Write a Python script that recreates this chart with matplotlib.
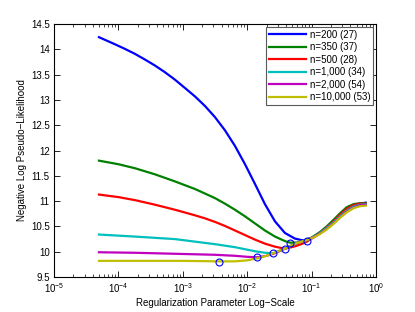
import numpy as np
import matplotlib
matplotlib.use("Agg")
import matplotlib.pyplot as plt
from matplotlib.ticker import FixedLocator, FuncFormatter, LogLocator

plt.rcParams['font.family'] = ['Liberation Sans', 'DejaVu Sans']

### Données (exposants log10 du paramètre de régularisation)
lab = ["n=200 (27)", "n=350 (37)", "n=500 (28)", "n=1,000 (34)", "n=2,000 (54)", "n=10,000 (53)"]
couleurs = [(0, 0, 1), (0, 0.5, 0), (1, 0, 0), (0, 0.75, 0.75), (0.75, 0, 0.75), (0.75, 0.75, 0)]

e200 = [-4.301, -4.053, -3.9, -3.742, -3.59, -3.432, -3.28, -3.121, -2.97, -2.811, -2.655, -2.5,
        -2.345, -2.189, -2.034, -1.879, -1.724, -1.568, -1.413, -1.258, -1.154, -1.076, -0.974,
        -0.87, -0.766, -0.66, -0.559, -0.455, -0.35, -0.25, -0.16]
y200 = [14.24, 14.10, 14.01, 13.91, 13.80, 13.68, 13.55, 13.40, 13.24, 13.07, 12.88, 12.66,
        12.40, 12.09, 11.73, 11.34, 10.94, 10.60, 10.37, 10.26, 10.23, 10.22, 10.28,
        10.37, 10.47, 10.58, 10.70, 10.80, 10.90, 10.95, 10.97]

e350 = [-4.301, -4.0, -3.742, -3.432, -3.121, -2.811, -2.655, -2.5, -2.345, -2.189, -2.034,
        -1.879, -1.724, -1.568, -1.413, -1.335, -1.23, -1.12, -1.0, -0.87, -0.766, -0.66,
        -0.559, -0.455, -0.35, -0.25, -0.16]
y350 = [11.80, 11.73, 11.65, 11.53, 11.39, 11.24, 11.15, 11.06, 10.95, 10.83, 10.70,
        10.56, 10.42, 10.30, 10.21, 10.18, 10.18, 10.22, 10.28, 10.39, 10.50, 10.63,
        10.76, 10.88, 10.94, 10.96, 10.96]

e500 = [-4.301, -4.0, -3.742, -3.432, -3.121, -2.811, -2.655, -2.5, -2.345, -2.189, -2.034,
        -1.879, -1.724, -1.568, -1.413, -1.25, -1.1, -1.0, -0.87, -0.766, -0.66, -0.559,
        -0.455, -0.35, -0.25, -0.16]
y500 = [11.13, 11.08, 11.02, 10.93, 10.83, 10.72, 10.66, 10.59, 10.51, 10.42, 10.33,
        10.24, 10.16, 10.10, 10.06, 10.11, 10.18, 10.26, 10.37, 10.48, 10.60, 10.73,
        10.85, 10.92, 10.95, 10.95]

e1000 = [-4.301, -3.742, -3.121, -2.811, -2.5, -2.189, -2.034, -1.879, -1.724, -1.595, -1.5,
         -1.413, -1.335, -1.23, -1.076, -0.974, -0.87, -0.766, -0.66, -0.559, -0.455, -0.35,
         -0.25, -0.16]
y1000 = [10.34, 10.30, 10.25, 10.20, 10.15, 10.09, 10.05, 10.01, 9.98, 9.97, 10.02,
         10.06, 10.11, 10.17, 10.23, 10.29, 10.37, 10.47, 10.58, 10.70, 10.81, 10.89,
         10.93, 10.94]

e2000 = [-4.301, -3.742, -3.121, -2.5, -2.189, -2.0, -1.843, -1.7, -1.595, -1.5, -1.413,
         -1.335, -1.23, -1.076, -0.974, -0.87, -0.766, -0.66, -0.559, -0.455, -0.35, -0.25,
         -0.16]
y2000 = [9.99, 9.98, 9.96, 9.94, 9.92, 9.90, 9.89, 9.92, 9.96, 10.01, 10.06,
         10.11, 10.17, 10.23, 10.29, 10.36, 10.45, 10.56, 10.68, 10.79, 10.87, 10.92,
         10.93]

e10000 = [-4.301, -3.0, -2.438, -2.2, -2.0, -1.843, -1.7, -1.595, -1.5, -1.413, -1.335, -1.23,
          -1.076, -0.974, -0.87, -0.766, -0.66, -0.559, -0.455, -0.35, -0.25, -0.16]
y10000 = [9.82, 9.82, 9.81, 9.81, 9.83, 9.87, 9.92, 9.97, 10.02, 10.06, 10.11, 10.17,
          10.23, 10.28, 10.35, 10.44, 10.55, 10.67, 10.78, 10.86, 10.90, 10.91]

# minimums (cercles)
min_e = [-1.076, -1.335, -1.413, -1.595, -1.843, -2.438]
min_y = [10.22, 10.17, 10.05, 9.97, 9.89, 9.80]

series = [(e200, y200), (e350, y350), (e500, y500), (e1000, y1000), (e2000, y2000), (e10000, y10000)]

fig = plt.figure(figsize=(4.15, 3.12), dpi=100)
ax = fig.add_axes([0.130, 0.112, 0.776, 0.811])

for (e, y), c, l in zip(series, couleurs, lab):
    ax.semilogx(np.power(10.0, e), y, color=c, lw=1.6, label=l)

ax.semilogx(np.power(10.0, min_e), min_y, 'o', ls='none', mfc='none', mec='b', ms=5, mew=0.8)

ax.set_xlim(1e-5, 1)
ax.set_ylim(9.5, 14.5)
ax.yaxis.set_major_locator(FixedLocator(np.arange(9.5, 14.51, 0.5)))
ax.yaxis.set_major_formatter(FuncFormatter(lambda v, p: ('%g' % v)))
ax.xaxis.set_major_locator(LogLocator(base=10, numticks=10))
ax.xaxis.set_minor_locator(LogLocator(base=10, subs=np.arange(2, 10), numticks=20))
ax.tick_params(which='both', direction='in', top=True, right=True, labelsize=7, pad=3)
ax.tick_params(which='major', length=4, width=0.6)
ax.tick_params(which='minor', length=2, width=0.5)
for s in ax.spines.values():
    s.set_linewidth(0.8)

ax.set_xlabel("Regularization Parameter Log\u2212Scale", fontsize=7, labelpad=2)
ax.set_ylabel("Negative Log Pseudo\u2212Likelihood", fontsize=7, labelpad=3)

leg = ax.legend(loc='upper right', fontsize=7, handlelength=3.8, handletextpad=0.4,
                borderpad=0.3, labelspacing=0.25, fancybox=False, framealpha=1,
                borderaxespad=0.3)
leg.get_frame().set_edgecolor('0.35')
leg.get_frame().set_linewidth(0.8)

fig.savefig("out.png", dpi=100)
